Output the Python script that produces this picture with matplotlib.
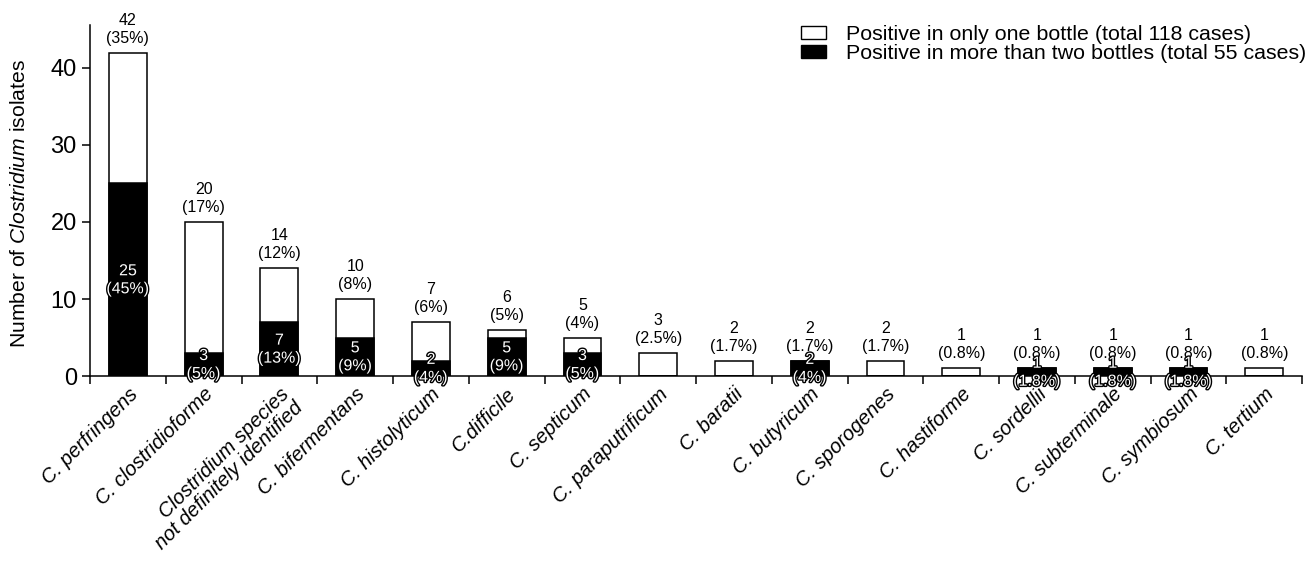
import matplotlib
matplotlib.use('Agg')
import matplotlib.pyplot as plt
import matplotlib.patheffects as pe
from matplotlib.patches import Patch
import numpy as np

plt.rcParams['font.family'] = ['Liberation Sans', 'DejaVu Sans']
plt.rcParams['mathtext.fontset'] = 'custom'
plt.rcParams['mathtext.rm'] = 'Liberation Sans'
plt.rcParams['mathtext.it'] = 'Liberation Sans:italic'

species = ['C. perfringens', 'C. clostridioforme',
           'Clostridium species\nnot definitely identified', 'C. bifermentans',
           'C. histolyticum', 'C.difficile', 'C. septicum', 'C. paraputrificum',
           'C. baratii', 'C. butyricum', 'C. sporogenes', 'C. hastiforme',
           'C. sordellii', 'C. subterminale', 'C. symbiosum', 'C. tertium']
total = [42, 20, 14, 10, 7, 6, 5, 3, 2, 2, 2, 1, 1, 1, 1, 1]
total_pct = ['35%', '17%', '12%', '8%', '6%', '5%', '4%', '2.5%', '1.7%',
             '1.7%', '1.7%', '0.8%', '0.8%', '0.8%', '0.8%', '0.8%']
multi = [25, 3, 7, 5, 2, 5, 3, 0, 0, 2, 0, 0, 1, 1, 1, 0]
multi_pct = ['45%', '5%', '13%', '9%', '4%', '9%', '5%', '', '', '4%', '',
             '', '1.8%', '1.8%', '1.8%', '']

fig = plt.figure(figsize=(13.14, 5.63), dpi=100)
ax = fig.add_axes([0.0685, 0.332, 0.9225, 0.624])

x = np.arange(len(species))
ax.bar(x, total, width=0.5, color='white', edgecolor='black', linewidth=1.1)
ax.bar(x, multi, width=0.5, color='black', edgecolor='black', linewidth=1.1)

# labels above each bar
for xi, t, p in zip(x, total, total_pct):
    ax.annotate('%d\n(%s)' % (t, p), (xi, t), xytext=(0, 5),
                textcoords='offset points', ha='center', va='bottom',
                fontsize=11.5, linespacing=1.25)

# white outlined labels inside the black part
for xi, m, p in zip(x, multi, multi_pct):
    if m > 0:
        ax.text(xi, m / 2, '%d\n(%s)' % (m, p), ha='center', va='center',
                fontsize=11.5, color='white', linespacing=1.25,
                path_effects=[pe.withStroke(linewidth=2, foreground='black')])

ax.set_xlim(-0.5, len(species) - 0.5)
ax.set_ylim(0, 45.6)
ax.set_yticks([0, 10, 20, 30, 40])
ax.set_xticks(np.arange(len(species) + 1) - 0.5)
ax.set_xticklabels([])
ax.set_xticks(x, minor=True)
ax.set_xticklabels(species, minor=True, rotation=45, ha='right',
                   rotation_mode='anchor', fontsize=14.5, style='italic',
                   linespacing=1.0)
ax.tick_params(axis='x', which='minor', length=0, pad=6)
ax.tick_params(axis='x', which='major', length=6, width=1.1, direction='out')
ax.tick_params(axis='y', length=6, width=1.1, labelsize=17)
for s in ['top', 'right']:
    ax.spines[s].set_visible(False)
for s in ['left', 'bottom']:
    ax.spines[s].set_linewidth(1.1)

ax.set_ylabel(r'Number of $\mathit{Clostridium}$ isolates', fontsize=15.2)
ax.yaxis.set_label_coords(-0.05, 0.49)

handles = [Patch(facecolor='white', edgecolor='black', linewidth=1),
           Patch(facecolor='black', edgecolor='black')]
ax.legend(handles, ['Positive in only one bottle (total 118 cases)',
                    'Positive in more than two bottles (total 55 cases)'],
          loc='upper right', bbox_to_anchor=(1.003, 1.0), frameon=False,
          fontsize=15.4, handlelength=1.2, handleheight=0.55,
          labelspacing=0.0, handletextpad=0.9, borderpad=0,
          borderaxespad=0)

fig.savefig('out.png', dpi=100)
